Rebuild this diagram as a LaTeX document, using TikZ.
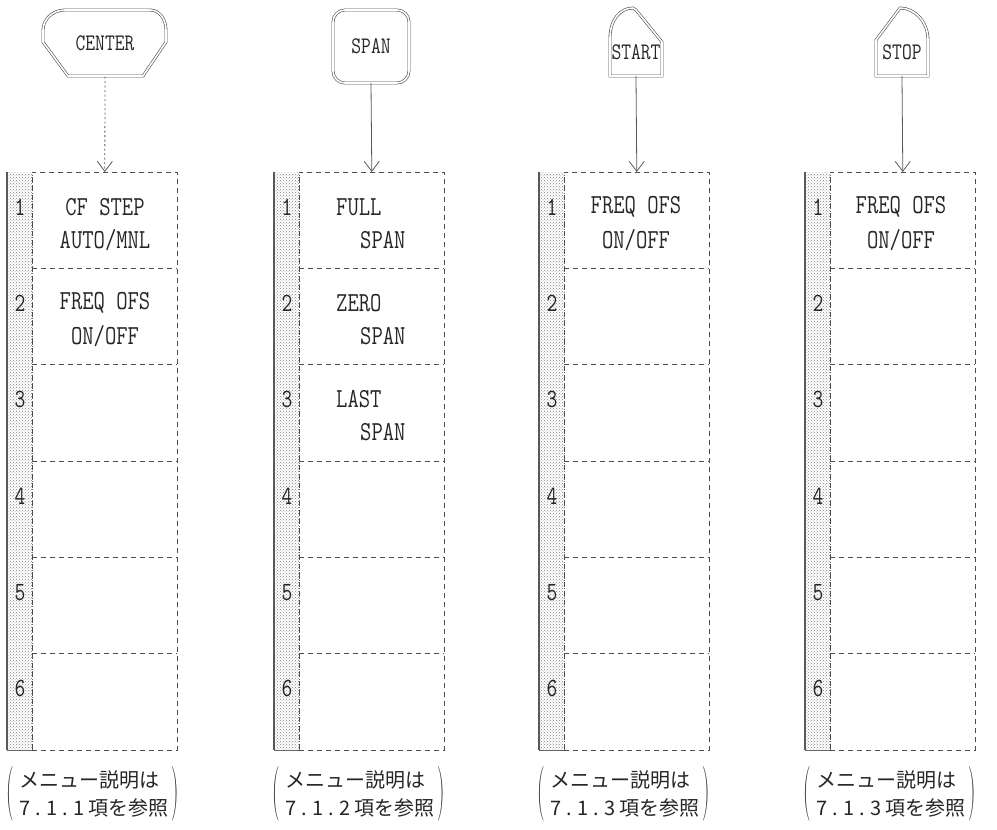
\documentclass[tikz,border=0pt]{standalone}
\usepackage{fontspec}
\newfontfamily\cjk{Noto Sans CJK JP}
\usetikzlibrary{arrows.meta,patterns}
\newcommand{\tallt}[1]{\scalebox{1}[1.25]{#1}}
\newcommand{\bigparen}[1]{\scalebox{1}[2.6]{\fontsize{21}{21}\selectfont #1}}
\tikzset{
  btn/.style={draw=black!70, line width=0.6pt, double=white, double distance=1.6pt},
  btntext/.style={font=\fontsize{19}{20}\ttfamily, inner sep=0pt, text=black!85},
  arr/.style={-{Straight Barb[length=10pt,width=15pt]}, draw=black!65, line width=0.8pt},
  dotarr/.style={arr, dash pattern=on 2pt off 2.5pt},
  menubox/.style={draw=black!70, line width=0.6pt, dash pattern=on 5pt off 4pt, anchor=north west,
    minimum width=145pt, minimum height=578pt, inner sep=0pt},
  sep/.style={draw=black!70, line width=0.6pt, dash pattern=on 5pt off 4pt},
  num/.style={font=\fontsize{21}{22}\ttfamily, inner sep=0pt, text=black!85},
  mt/.style={font=\fontsize{22}{24}\ttfamily, inner sep=0pt, text=black!85},
  mtl/.style={mt, anchor=west},
  foot/.style={font=\cjk\fontsize{20}{28}\selectfont, inner sep=0pt, text=black!85, align=left},
  paren/.style={inner sep=0pt, text=black!80},
}
\begin{document}
\begin{tikzpicture}[x=1pt,y=-1pt]
\useasboundingbox (0,0) rectangle (997,830);

% ---- buttons ----
\node[btntext, minimum width=124pt, minimum height=67pt] (b1) at (105,43) {\tallt{CENTER}};
\draw[btn] (65,10) -- (150,10) .. controls (160,10) and (166,20) .. (166,30) -- (166,42) -- (143,76)
  -- (68,76) -- (43,42) -- (43,30) .. controls (43,20) and (52,10) .. (65,10) -- cycle;

\node[btntext, minimum width=76pt, minimum height=73pt] (b2) at (371,46.5) {\tallt{SPAN}};
\draw[btn, rounded corners=12pt] (333,10) rectangle (409,83);

\node[btntext, minimum width=52pt, minimum height=48pt] (b3) at (636,52) {\tallt{START}};
\draw[btn] (610,76) -- (610,38) .. controls (610,20) and (620,8) .. (633,8) -- (636,10) -- (662,42) -- (662,76) -- cycle;

\node[btntext, minimum width=52pt, minimum height=48pt] (b4) at (902,52) {\tallt{STOP}};
\draw[btn] (876,76) -- (876,40) -- (900,8) .. controls (915,8) and (928,22) .. (928,40) -- (928,76) -- cycle;

% ---- menu columns ----
\foreach \L/\i in {7/1,274/2,539/3,805/4} {
  \fill[pattern=crosshatch dots, pattern color=black!50] (\L,172) rectangle (\L+25,750);
  \draw[black!65, line width=1.6pt] (\L,172) -- (\L,750);
  \draw[black!60, line width=0.6pt] (\L,750) -- (\L+25,750);
  \draw[black!60, dotted, line width=0.6pt] (\L+25,172) -- (\L+25,750);
  \node[menubox] (m\i) at (\L+25,172) {};
  \foreach \r in {1,...,5}
    \draw[sep] (\L+25,172+\r*96.33) -- (\L+170,172+\r*96.33);
  \foreach \r in {1,...,6}
    \node[num] (n\i\r) at (\L+13,207+\r*96.33-96.33) {\tallt{\r}};
}

% ---- connectors ----
\draw[dotarr] (b1.south) -- (m1.north);
\draw[arr] (b2.south) -- (m2.north);
\draw[arr] (b3.south) -- (m3.north);
\draw[arr] (b4.south) -- (m4.north);

% ---- menu texts ----
\node[mt] (c1a) at (105,207) {\tallt{CF STEP}};
\node[mt] (c1b) at (105,240) {\tallt{AUTO/MNL}};
\node[mt] (c1c) at (105,303) {\tallt{FREQ OFS}};
\node[mt] (c1d) at (105,336) {\tallt{ON/OFF}};

\node[mtl] (c2a) at (336,207) {\tallt{FULL}};
\node[mtl] (c2b) at (360,240) {\tallt{SPAN}};
\node[mtl] (c2c) at (336,303) {\tallt{ZERO}};
\node[mtl] (c2d) at (360,336) {\tallt{SPAN}};
\node[mtl] (c2e) at (336,399) {\tallt{LAST}};
\node[mtl] (c2f) at (360,432) {\tallt{SPAN}};

\node[mt] (c3a) at (636,207) {\tallt{FREQ OFS}};
\node[mt] (c3b) at (636,240) {\tallt{ON/OFF}};

\node[mt] (c4a) at (901,207) {\tallt{FREQ OFS}};
\node[mt] (c4b) at (901,240) {\tallt{ON/OFF}};

% ---- footers ----
\foreach \x/\s/\i in {94/7.1.1/1, 360/7.1.2/2, 625/7.1.3/3, 891/7.1.3/4} {
  \node[foot] (f\i) at (\x,794) {メニュー説明は\\{\addfontfeature{LetterSpace=25}\s}\hspace{4pt}項を参照};
  \node[paren, anchor=east] (pl\i) at ([xshift=-5pt]f\i.west) {\bigparen{(}};
  \node[paren, anchor=west] (pr\i) at ([xshift=2.5pt]f\i.east) {\bigparen{)}};
}
\end{tikzpicture}
\end{document}
